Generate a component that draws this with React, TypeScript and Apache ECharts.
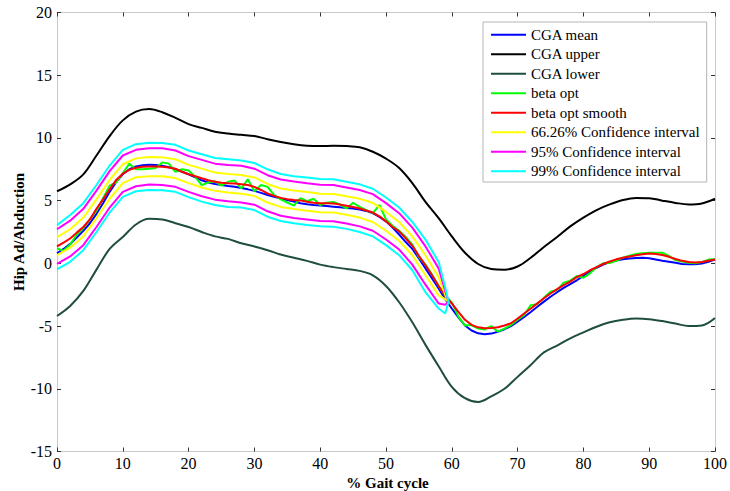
import React, { useEffect, useRef } from "react";
import * as echarts from "echarts";

// % gait cycle grids
const gaitPct = Array.from({ length: 101 }, (_, i) => i);
const gaitPctCoarse = Array.from({ length: 51 }, (_, i) => i * 2);
const gaitPctBand = [0, 2, 4, 6, 8, 10, 12, 14, 16, 18, 20, 22, 24, 26, 28, 30, 32, 34, 36, 38, 40, 42, 44, 46, 48, 50, 52, 54, 56, 58, 59, 59.5];

const xTicks = [0, 10, 20, 30, 40, 50, 60, 70, 80, 90, 100];
const yTicks = [-15, -10, -5, 0, 5, 10, 15, 20];

const cgaMean = [
  0.8, 1.15, 1.55, 2.05, 2.6, 3.2, 3.95, 4.8, 5.7, 6.5,
  7.1, 7.5, 7.72, 7.83, 7.86, 7.85, 7.78, 7.67, 7.5, 7.3,
  7.1, 6.85, 6.62, 6.45, 6.33, 6.25, 6.17, 6.1, 6.0, 5.9,
  5.78, 5.62, 5.45, 5.3, 5.17, 5.05, 4.92, 4.8, 4.72, 4.66,
  4.62, 4.57, 4.52, 4.47, 4.42, 4.38, 4.3, 4.18, 4.0, 3.7,
  3.35, 2.85, 2.3, 1.7, 1.15, 0.4, -0.4, -1.2, -2.0, -2.85,
  -3.6, -4.3, -4.95, -5.35, -5.58, -5.66, -5.6, -5.45, -5.25, -5.0,
  -4.65, -4.28, -3.88, -3.46, -3.05, -2.66, -2.3, -1.95, -1.65, -1.35,
  -1.0, -0.65, -0.35, -0.1, 0.1, 0.22, 0.32, 0.38, 0.43, 0.45,
  0.4, 0.3, 0.2, 0.13, 0.05, -0.05, -0.08, -0.08, -0.02, 0.13,
  0.3,
];

const cgaUpper = [
  5.75, 6.3, 7.1, 8.6, 10.15, 11.4, 12.1, 12.3, 12.05, 11.6,
  11.1, 10.8, 10.5, 10.35, 10.25, 10.15, 9.9, 9.68, 9.5, 9.38,
  9.35, 9.38, 9.35, 9.25, 8.9, 8.35, 7.6, 6.4, 4.9, 3.6,
  2.15, 0.85, -0.05, -0.45, -0.5, -0.25, 0.45, 1.3, 2.1, 2.95,
  3.65, 4.25, 4.7, 5.05, 5.22, 5.2, 5.0, 4.82, 4.7, 4.78,
  5.15,
];

const cgaLower = [
  -4.2, -3.4, -2.2, -0.5, 1.15, 2.1, 3.1, 3.55, 3.5, 3.2,
  2.9, 2.5, 2.15, 1.95, 1.6, 1.35, 1.05, 0.7, 0.45, 0.2,
  -0.1, -0.3, -0.45, -0.6, -0.95, -1.8, -3.1, -4.7, -6.5, -8.2,
  -9.84, -10.75, -11.05, -10.6, -10.0, -9.05, -8.1, -7.1, -6.55, -5.98,
  -5.5, -5.05, -4.7, -4.5, -4.4, -4.45, -4.6, -4.8, -5.0, -4.95,
  -4.35,
];

const betaOpt = [
  1.2, 1.0, 1.5, 2.3, 2.8, 3.5, 4.2, 5.2, 6.2, 6.45,
  7.2, 7.95, 7.5, 7.5, 7.55, 7.6, 8.05, 7.95, 7.3, 7.5,
  7.4, 6.9, 6.24, 6.45, 6.55, 6.2, 6.5, 6.6, 5.97, 6.7,
  5.75, 6.24, 6.1, 5.45, 5.1, 4.85, 4.6, 5.2, 4.95, 5.15,
  4.65, 4.83, 4.9, 4.7, 4.38, 4.83, 4.5, 4.25, 4.0, 4.65,
  3.5, 3.0, 2.6, 2.1, 1.5, 0.5, -0.1, -0.9, -1.8, -2.6,
  -3.1, -4.25, -4.95, -4.92, -5.2, -5.27, -5.0, -5.45, -5.2, -4.92,
  -4.5, -4.12, -3.33, -3.25, -2.75, -2.26, -2.13, -1.54, -1.38, -1.01,
  -1.15, -0.8, -0.3, 0.0, 0.02, 0.2, 0.45, 0.6, 0.75, 0.8,
  0.85, 0.85, 0.85, 0.6, 0.26, 0.15, 0.05, 0.0, 0.1, 0.3,
  0.32,
];

const betaOptSmooth = [
  1.35, 1.65, 1.98, 2.45, 2.9, 3.5, 4.35, 5.1, 5.9, 6.65,
  7.15, 7.45, 7.62, 7.7, 7.72, 7.72, 7.7, 7.65, 7.55, 7.3,
  7.1, 6.95, 6.78, 6.62, 6.5, 6.42, 6.38, 6.36, 6.3, 6.24,
  6.1, 5.85, 5.58, 5.38, 5.22, 5.12, 5.06, 5.02, 4.92, 4.83,
  4.8, 4.8, 4.78, 4.7, 4.6, 4.5, 4.38, 4.22, 4.05, 3.75,
  3.35, 2.9, 2.55, 2.0, 1.4, 0.6, -0.15, -0.95, -1.8, -2.6,
  -3.2, -3.86, -4.5, -4.9, -5.1, -5.18, -5.15, -5.1, -4.95, -4.78,
  -4.4, -4.0, -3.6, -3.19, -2.78, -2.4, -2.05, -1.73, -1.45, -1.1,
  -0.85, -0.55, -0.3, -0.05, 0.15, 0.32, 0.45, 0.55, 0.65, 0.72,
  0.78, 0.75, 0.66, 0.52, 0.35, 0.2, 0.1, 0.06, 0.1, 0.2,
  0.3,
];

const ci66Upper = [2.1, 2.72, 3.65, 5.1, 6.65, 7.9, 8.37, 8.47, 8.45, 8.3, 7.85, 7.55, 7.25, 7.13, 7.05, 6.85, 6.33, 5.97, 5.8, 5.68, 5.55, 5.53, 5.35, 5.15, 4.82, 4.1, 3.3, 2.15, 0.65, -1.1, -2.5, -3.06];
const ci66Lower = [0.65, 1.25, 2.15, 3.6, 5.15, 6.4, 6.87, 6.95, 6.95, 6.8, 6.4, 6.05, 5.78, 5.65, 5.55, 5.38, 4.85, 4.5, 4.33, 4.2, 4.08, 4.05, 3.88, 3.65, 3.3, 2.6, 1.8, 0.65, -0.95, -2.55, -2.85, -3.06];
const ci95Upper = [2.72, 3.4, 4.35, 5.8, 7.35, 8.6, 9.05, 9.18, 9.17, 9.0, 8.55, 8.25, 7.95, 7.85, 7.78, 7.55, 7.03, 6.68, 6.52, 6.38, 6.27, 6.25, 6.05, 5.85, 5.52, 4.8, 4.0, 2.85, 1.35, -0.4, -2.2, -3.06];
const ci95Lower = [-0.05, 0.55, 1.45, 2.9, 4.45, 5.7, 6.15, 6.28, 6.25, 6.1, 5.7, 5.35, 5.08, 4.95, 4.85, 4.68, 4.15, 3.8, 3.62, 3.5, 3.38, 3.35, 3.18, 2.95, 2.6, 1.9, 1.1, -0.1, -1.7, -3.2, -3.3, -3.06];
const ci99Upper = [3.05, 3.85, 4.8, 6.25, 7.8, 9.05, 9.5, 9.62, 9.6, 9.45, 9.0, 8.7, 8.4, 8.3, 8.2, 8.0, 7.5, 7.12, 6.95, 6.85, 6.72, 6.7, 6.5, 6.3, 5.95, 5.25, 4.45, 3.3, 1.9, 0.1, -1.9, -3.06];
const ci99Lower = [-0.48, 0.12, 1.05, 2.5, 4.05, 5.3, 5.75, 5.85, 5.82, 5.7, 5.28, 4.92, 4.65, 4.5, 4.45, 4.25, 3.72, 3.38, 3.2, 3.05, 2.95, 2.92, 2.75, 2.5, 2.15, 1.45, 0.65, -0.55, -2.3, -3.6, -4.0, -3.06];

const legendNames = [
  "CGA mean",
  "CGA upper",
  "CGA lower",
  "beta opt",
  "beta opt smooth",
  "66.26% Confidence interval",
  "95% Confidence interval",
  "99% Confidence interval",
];

const pairs = (xs: number[], ys: number[]) => xs.map((x, i) => [x, ys[i]]);

const FONT = "'Liberation Serif', 'Times New Roman', serif";

function line(name: string, xs: number[], ys: number[], color: string, smooth: number | boolean = false) {
  return {
    type: "line",
    name,
    data: pairs(xs, ys),
    showSymbol: false,
    symbol: "none",
    smooth,
    lineStyle: { color, width: 2 },
    itemStyle: { color },
    xAxisIndex: 0,
    yAxisIndex: 0,
  };
}

export default function App() {
  const ref = useRef<HTMLDivElement>(null);
  useEffect(() => {
    document.body.style.margin = "0";
    if (!ref.current) return;
    const chart = echarts.init(ref.current, null, { renderer: "svg" });
    const axisLine = { show: true, onZero: false, lineStyle: { color: "#c8c8c8", width: 1 } };
    const axisTick = { show: true, inside: true, length: 4, lineStyle: { color: "#333", width: 1 } };
    const grid = { left: 57, right: 12, top: 12.5, bottom: 39.5, containLabel: false };
    chart.setOption({
      animation: false,
      backgroundColor: "#ffffff",
      grid,
      xAxis: [
        {
          type: "value",
          min: xTicks[0],
          max: xTicks[xTicks.length - 1],
          interval: 10,
          position: "bottom",
          axisLine,
          axisTick,
          splitLine: { show: false },
          axisLabel: { color: "#000", fontFamily: FONT, fontSize: 16, margin: 4 },
        },
        {
          type: "value",
          min: xTicks[0],
          max: xTicks[xTicks.length - 1],
          interval: 10,
          position: "top",
          axisLine,
          axisTick,
          splitLine: { show: false },
          axisLabel: { show: false },
        },
      ],
      yAxis: [
        {
          type: "value",
          min: yTicks[0],
          max: yTicks[yTicks.length - 1],
          interval: 5,
          position: "left",
          axisLine,
          axisTick,
          splitLine: { show: false },
          axisLabel: { color: "#000", fontFamily: FONT, fontSize: 16, margin: 5 },
        },
        {
          type: "value",
          min: yTicks[0],
          max: yTicks[yTicks.length - 1],
          interval: 5,
          position: "right",
          axisLine,
          axisTick,
          splitLine: { show: false },
          axisLabel: { show: false },
        },
      ],
      legend: {
        data: legendNames,
        orient: "vertical",
        left: 483,
        top: 22,
        icon: "rect",
        itemWidth: 35,
        itemHeight: 2,
        itemGap: 0,
        padding: [3, 7, 1, 8],
        backgroundColor: "#ffffff",
        borderColor: "#b4b4b4",
        borderWidth: 1,
        selectedMode: false,
        textStyle: { color: "#000", fontFamily: FONT, fontSize: 15, lineHeight: 19.5 },
      },
      graphic: [
        {
          type: "text",
          x: 387.5,
          y: 483,
          style: {
            text: "% Gait cycle",
            font: "bold 15px " + FONT,
            fill: "#000",
            align: "center",
            verticalAlign: "middle",
          },
        },
        {
          type: "text",
          x: 19,
          y: 232,
          rotation: Math.PI / 2,
          style: {
            text: "Hip Ad/Abduction",
            font: "bold 15px " + FONT,
            fill: "#000",
            align: "center",
            verticalAlign: "middle",
          },
        },
      ],
      series: [
        line(legendNames[0], gaitPct, cgaMean, "#0000ff"),
        line(legendNames[1], gaitPctCoarse, cgaUpper, "#000000", 0.35),
        line(legendNames[2], gaitPctCoarse, cgaLower, "#1f4e3d", 0.35),
        line(legendNames[3], gaitPct, betaOpt, "#00ff00"),
        line(legendNames[4], gaitPct, betaOptSmooth, "#ff0000"),
        line(legendNames[5], gaitPctBand, ci66Upper, "#ffff00"),
        line(legendNames[5], gaitPctBand, ci66Lower, "#ffff00"),
        line(legendNames[6], gaitPctBand, ci95Upper, "#ff00ff"),
        line(legendNames[6], gaitPctBand, ci95Lower, "#ff00ff"),
        line(legendNames[7], gaitPctBand, ci99Upper, "#00ffff"),
        line(legendNames[7], gaitPctBand, ci99Lower, "#00ffff"),
      ],
    });
    return () => chart.dispose();
  }, []);
  return (
    <div
      ref={ref}
      style={{ position: "fixed", left: 0, top: 0, width: 730, height: 491 }}
    />
  );
}
